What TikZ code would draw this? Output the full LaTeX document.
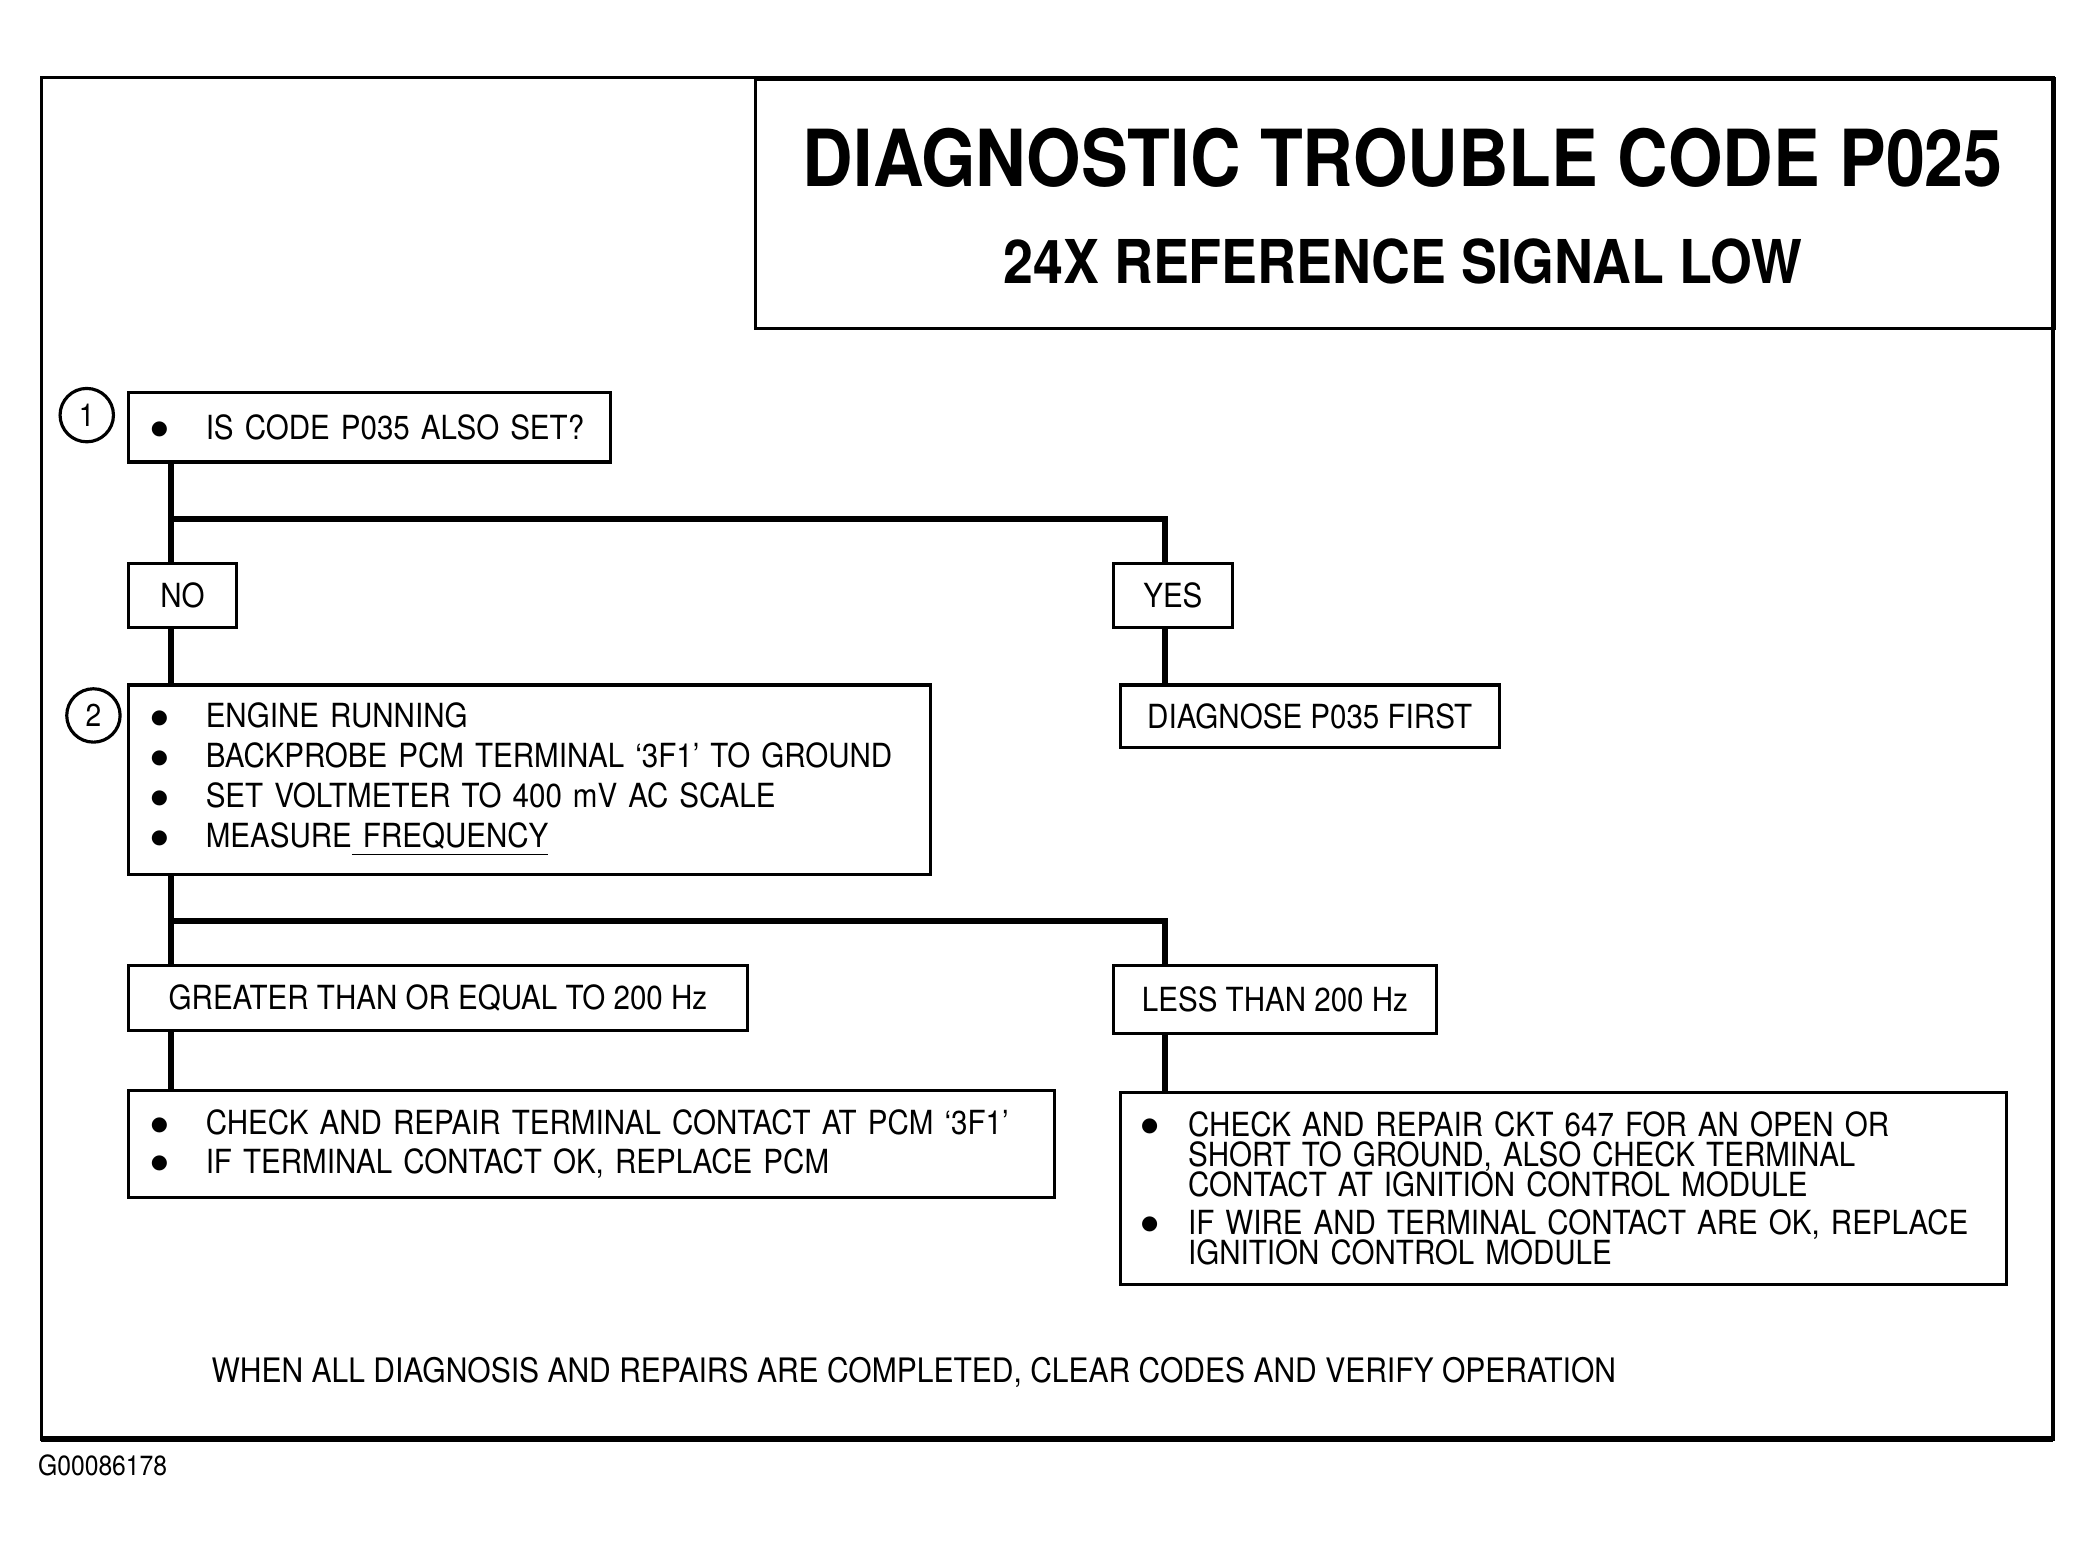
\documentclass[tikz,border=0pt]{standalone}
\usepackage{fontspec}
\setmainfont{TeX Gyre Heros}[FakeStretch=0.89]
\newfontfamily\symfont{DejaVu Sans}
\newcommand\bigdot{\raisebox{1.3pt}{\symfont\fontsize{5.6}{6}\selectfont ●}}
\newcommand\bul{\makebox[0.52cm][l]{\hspace{-0.03cm}\bigdot}}
\newcommand\bulr{\makebox[0.44cm][l]{\hspace{-0.03cm}\bigdot}}
\newcommand\indr{\hspace*{0.44cm}}

\begin{document}
\begin{tikzpicture}[x=0.013348cm, y=-0.013348cm,
  stepbox/.style={draw, line width=0.9pt, anchor=north west, inner xsep=0.254cm, inner ysep=0pt, align=left, font=\fontsize{9.45}{11.4}\selectfont},
  tagbox/.style={draw, line width=0.9pt, anchor=north west, inner sep=0pt, align=center, font=\fontsize{9.45}{11.4}\selectfont},
  marker/.style={draw, circle, line width=0.9pt, minimum size=0.534cm, inner sep=0pt, font=\fontsize{9}{10}\selectfont},
  wire/.style={line width=1.8pt}]
\useasboundingbox (0,0) rectangle (1568,1162);
% frame and heading
\draw[line width=0.9pt] (31,58) rectangle (1538,1078);
\draw[line width=1.6pt] (31,1078) -- (1538,1078);
\node[draw, line width=0.9pt, anchor=north west, minimum width=12.988cm, minimum height=2.496cm, inner sep=0pt] (titlebox) at (565,58) {};
\node[font=\fontsize{22.4}{26}\selectfont\bfseries] (title) at (1051,118) {DIAGNOSTIC TROUBLE CODE P025};
\node[font=\fontsize{17.2}{20}\selectfont\bfseries] (subtitle) at (1051,196) {24X REFERENCE SIGNAL LOW};
% steps
\node[marker] (m1) at (65,311) {1};
\node[stepbox, text width=4.311cm, minimum height=0.694cm] (q1) at (95,293) {\mbox{\bul IS CODE P035 ALSO SET?}};
\node[tagbox, minimum width=1.081cm, minimum height=0.641cm] (no) at (95,421) {NO};
\node[tagbox, minimum width=1.188cm, minimum height=0.641cm] (yes) at (833,421) {YES};
\node[marker] (m2) at (70,536) {2};
\node[stepbox, text width=7.514cm, minimum height=1.895cm] (step2) at (95,512) {\bul ENGINE RUNNING\\ \bul BACKPROBE PCM TERMINAL `3F1' TO GROUND\\ \bul SET VOLTMETER TO 400 mV AC SCALE\\ \bul MEASURE\underline{ FREQUENCY}};
\node[tagbox, minimum width=3.791cm, minimum height=0.627cm] (diag) at (838,512) {DIAGNOSE P035 FIRST};
\node[tagbox, minimum width=6.193cm, minimum height=0.654cm] (ge) at (95,722) {GREATER THAN OR EQUAL TO 200 Hz};
\node[tagbox, minimum width=3.230cm, minimum height=0.681cm] (lt) at (833,722) {LESS THAN 200 Hz};
\node[stepbox, text width=8.756cm, minimum height=1.068cm, font={\fontsize{9.45}{11}\selectfont}] (fixl) at (95,816) {\bul CHECK AND REPAIR TERMINAL CONTACT AT PCM `3F1'\\ \bul IF TERMINAL CONTACT OK, REPLACE PCM};
\node[stepbox, inner xsep=0.24cm, text width=8.383cm, minimum height=1.922cm, font={\fontsize{9.45}{8.55}\selectfont\lineskiplimit=-9pt}] (fixr) at (838,817) {\bulr CHECK AND REPAIR CKT 647 FOR AN OPEN OR\\ \indr SHORT TO GROUND, ALSO CHECK TERMINAL\\ \indr CONTACT AT IGNITION CONTROL MODULE\\[2.1pt] \bulr IF WIRE AND TERMINAL CONTACT ARE OK, REPLACE\\ \indr IGNITION CONTROL MODULE};
\node[anchor=west, inner sep=0pt, font=\fontsize{9.6}{11}\selectfont] (note) at (158,1028) {WHEN ALL DIAGNOSIS AND REPAIRS ARE COMPLETED, CLEAR CODES AND VERIFY OPERATION};
\node[anchor=west, inner sep=0pt, font=\fontsize{7.9}{9}\selectfont] (figid) at (28,1098) {G00086178};
% connectors
\coordinate (lspine) at (128,0);
\coordinate (rspine) at (873,0);
\coordinate (fork1) at (128,389);
\coordinate (fork2) at (128,690);
\draw[wire] (q1.south -| lspine) -- (no.north -| lspine);
\draw[wire] (fork1) -| (yes.north -| rspine);
\draw[wire] (no.south -| lspine) -- (step2.north -| lspine);
\draw[wire] (yes.south -| rspine) -- (diag.north -| rspine);
\draw[wire] (step2.south -| lspine) -- (ge.north -| lspine);
\draw[wire] (fork2) -| (lt.north -| rspine);
\draw[wire] (ge.south -| lspine) -- (fixl.north -| lspine);
\draw[wire] (lt.south -| rspine) -- (fixr.north -| rspine);
\end{tikzpicture}
\end{document}
